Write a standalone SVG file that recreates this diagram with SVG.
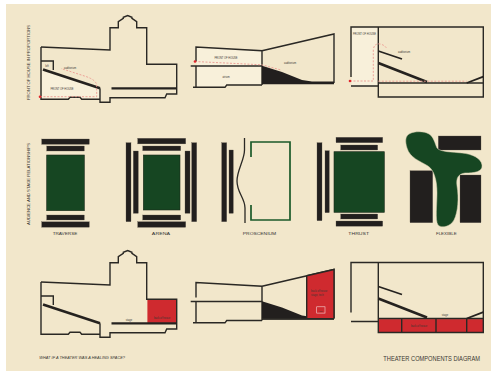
<svg xmlns="http://www.w3.org/2000/svg" xmlns:xlink="http://www.w3.org/1999/xlink" width="491" height="371" viewBox="0 0 491 371">
  <style>
    .wall{fill:none;stroke:#2a2824;stroke-width:1.4;stroke-linejoin:miter}
    .thick{fill:none;stroke:#25221f;stroke-width:2.6}
    .mid{fill:none;stroke:#25221f;stroke-width:1.8}
    .soft{fill:#f8f0da}
    .bar{fill:#221f1e;stroke:#5e584c;stroke-width:.3}
    .stage{fill:#164622;stroke:#1c2a1b;stroke-width:.6}
    .red{fill:#cf2a2f}
    .route{fill:none;stroke:#ec9a92;stroke-width:.9;stroke-dasharray:2 1.5}
    .dot{fill:#e0262c}
    .t{font-family:"Liberation Sans",Arial,sans-serif;fill:#3a3733}
    .tiny{font-size:2.6px}
    .lbl{font-size:4.3px;fill:#333}
  </style>
  <defs>
    <!-- tall theatre with fly tower: section outline -->
    <g id="bldgA">
      <path class="wall" d="M41,47 L110,50 L110,27.7 L118.3,27.7 L118.3,21.7 L123.3,18.3 L123.3,17.3 L127.7,15.5 L131.9,17.3 L131.9,18.3 L136.7,21.7 L136.7,27.7 L146.7,27.7 L146.7,64.3 L176.7,64.3 L176.7,94 L166.7,94 L165,97.7 L110,97.7 L110,102.3 L100,102.3 L100,88.3"/>
      <path class="wall" d="M41,47 V99.3 H68.3 L70,97.3 H80 L81.7,99.3 H100"/>
      <path class="wall" d="M41,61 H53.3 V70"/>
      <path class="mid" d="M111.5,88.3 H176.7" style="stroke-width:2.2"/>
      <path class="thick" d="M43,69.5 L100,88.3"/>
    </g>
    <!-- long lobby plus raked house: section outline -->
    <g id="bldgB">
      <path class="wall" d="M196,62 V47 L262,50.7 V85 M190.7,66 H262 M196,66 V87.3 M193,87.3 H225 L226.7,85 H262 M262,50.7 L334,34 V83"/>
      <path fill="#221f1e" d="M262,65.7 L282,72 L302,80 L312,81.5 H334 V84.2 H262 Z"/>
    </g>
    <!-- box theatre with front-of-house strip -->
    <g id="bldgC">
      <path class="wall" d="M351,77 V27 H483.3 V97 H378.3 V27 M378.3,83 H483.3 M351,86 H378.3"/>
      <path class="mid" d="M378.3,51 L402,59"/>
      <path class="thick" d="M378.3,63 L427,82"/>
      <path class="mid" d="M466.7,83 L483.3,76.7"/>
    </g>
  </defs>

  <rect x="0" y="0" width="491" height="371" fill="#ffffff"/>
  <rect x="6" y="4" width="485" height="367" fill="#f2e7cb"/>

  <!-- row captions -->
  <text class="t" font-size="4.3" text-anchor="middle" textLength="75" lengthAdjust="spacingAndGlyphs" transform="translate(29.5,62.5) rotate(-90)">FRONT OF HOUSE IN PROPORTIONS</text>
  <text class="t" font-size="4.1" text-anchor="middle" textLength="82" lengthAdjust="spacingAndGlyphs" transform="translate(29.8,184) rotate(-90)">AUDIENCE AND STAGE RELATIONSHIPS</text>

  <!-- top row: front of house -->
  <g id="foh-tower">
    <path class="soft" d="M42,70 L100,88.5 V98.5 H42 Z"/>
    <use xlink:href="#bldgA"/>
    <text class="t tiny" x="47" y="66.5" text-anchor="middle">loft</text>
    <text class="t tiny" x="70" y="68.8" text-anchor="middle">auditorium</text>
    <text class="t tiny" x="62" y="90" text-anchor="middle">FRONT OF HOUSE</text>
  </g>
  <g id="foh-lobby">
    <path class="soft" d="M196.7,47.8 L261.3,51.3 V84.5 H226.5 L225,86.6 H196.7 Z"/>
    <use xlink:href="#bldgB"/>
    <text class="t tiny" x="226" y="58.5" text-anchor="middle">FRONT OF HOUSE</text>
    <text class="t tiny" x="226" y="77.5" text-anchor="middle">atrium</text>
    <text class="t tiny" x="290" y="64" text-anchor="middle">auditorium</text>
  </g>
  <g id="foh-box">
    <rect class="soft" x="351.7" y="27.7" width="26" height="58"/>
    <use xlink:href="#bldgC"/>
    <text class="t tiny" x="364.5" y="34.5" text-anchor="middle">FRONT OF HOUSE</text>
    <text class="t tiny" x="404" y="53" text-anchor="middle">auditorium</text>
  </g>

  <!-- circulation routes -->
  <g id="connectors">
    <path class="route" d="M40,96.7 H96.7 V85 Q96,80 86,76.5 L61,68.5"/>
    <circle class="dot" cx="40" cy="96.8" r="1.3"/>
    <path class="route" d="M195,61.5 L261.7,64.8 L281,70"/>
    <circle class="dot" cx="195" cy="61.5" r="1.3"/>
    <path class="route" d="M350,81 H373.3 V50 Q374,43 380,44 Q385,45 387,49 M378.3,81.2 H466.7"/>
    <circle class="dot" cx="350" cy="81" r="1.3"/>
  </g>

  <!-- middle row: audience / stage relationships -->
  <g id="traverse">
    <rect class="bar" x="41.7" y="139" width="47.6" height="5.3"/>
    <rect class="bar" x="46.7" y="146" width="37.6" height="5"/>
    <rect class="stage" x="46.7" y="155" width="37.6" height="55.7"/>
    <rect class="bar" x="46.7" y="215" width="37.6" height="5"/>
    <rect class="bar" x="41.7" y="221.8" width="47.6" height="5.4"/>
    <text class="t lbl" x="65" y="235" text-anchor="middle" textLength="24.7" lengthAdjust="spacingAndGlyphs">TRAVERSE</text>
  </g>
  <g id="arena">
    <rect class="bar" x="137.7" y="138.3" width="48" height="5.6"/>
    <rect class="bar" x="142.7" y="146" width="38" height="4.7"/>
    <rect class="stage" x="143.3" y="155" width="36.7" height="55"/>
    <rect class="bar" x="142.7" y="215" width="38" height="5"/>
    <rect class="bar" x="137.7" y="221.7" width="48" height="5.6"/>
    <rect class="bar" x="126" y="142.7" width="5" height="79"/>
    <rect class="bar" x="133.3" y="151" width="5" height="62.3"/>
    <rect class="bar" x="185" y="151" width="5" height="62.3"/>
    <rect class="bar" x="191.7" y="142.7" width="5" height="79"/>
    <text class="t lbl" x="161" y="235" text-anchor="middle" textLength="18.3" lengthAdjust="spacingAndGlyphs">ARENA</text>
  </g>
  <g id="proscenium">
    <rect class="bar" x="221.7" y="142.7" width="5" height="79"/>
    <rect class="bar" x="229" y="150" width="4.3" height="63.3"/>
    <path class="wall" style="stroke-width:1.3" d="M244.5,138 V150 C244.5,160 237,170 237,181 C237,193 245,198 245,208 V223"/>
    <path fill="none" stroke="#1b5a2a" stroke-width="1.7" d="M251,157 V142 H290 V220 H251 V205"/>
    <text class="t lbl" x="259.5" y="235" text-anchor="middle" textLength="33.3" lengthAdjust="spacingAndGlyphs">PROSCENIUM</text>
  </g>
  <g id="thrust">
    <rect class="bar" x="317" y="142.7" width="5" height="78"/>
    <rect class="bar" x="325" y="150.7" width="4.3" height="62"/>
    <rect class="bar" x="336" y="137.3" width="46.7" height="5.4"/>
    <rect class="bar" x="340.7" y="145" width="37" height="5"/>
    <rect class="stage" x="334" y="151.7" width="50.3" height="60.6"/>
    <rect class="bar" x="340.7" y="214" width="37" height="5"/>
    <rect class="bar" x="336" y="221" width="46.7" height="5.2"/>
    <text class="t lbl" x="358.7" y="235" text-anchor="middle" textLength="20.7" lengthAdjust="spacingAndGlyphs">THRUST</text>
  </g>
  <g id="flexible">
    <rect class="bar" x="438.3" y="136" width="42.7" height="14"/>
    <rect class="bar" x="410" y="170.7" width="22.7" height="52"/>
    <rect class="bar" x="460" y="175" width="21" height="47.7"/>
    <path class="stage" style="stroke:#d8cfb1;stroke-width:.5" d="M410,133.5 C415,131 424,131 429,134 C434,137 435,144 437,148 C440,152 452,152 462,153 C472,154 481,158 482,165 C483,172 474,173 465,173 C458,174 456,178 457,186 C459,198 458,212 454,220 C451,226 442,229 438,225 C435,220 437,205 437,193 C437,180 434,170 428,166 C420,161 410,158 407,148 C405,141 405,136 410,133.5 Z"/>
    <text class="t lbl" x="446.3" y="235" text-anchor="middle" textLength="20.7" lengthAdjust="spacingAndGlyphs">FLEXIBLE</text>
  </g>

  <!-- bottom row: back of house -->
  <g id="boh-tower" transform="translate(0,235)">
    <rect class="red" x="147.4" y="64.3" width="29.3" height="23.6"/>
    <use xlink:href="#bldgA"/>
    <text class="t tiny" x="162" y="84" text-anchor="middle" fill="#3a1010">back of house</text>
    <text class="t tiny" x="129" y="86.3" text-anchor="middle">stage</text>
  </g>
  <g id="boh-lobby" transform="translate(0,235.5)">
    <use xlink:href="#bldgB"/>
    <path class="red" d="M306.7,40.3 L334,34 V83 H306.7 Z"/>
    <path class="wall" d="M306.7,40.3 L334,34 V83 M306.7,40.3 V83 M262,83.3 H334"/>
    <text class="t tiny" x="311" y="56.5" fill="#3a1010">back of house</text>
    <text class="t tiny" x="311" y="60.3" fill="#3a1010">stage, tech</text>
    <rect x="316.7" y="71.3" width="8.3" height="6.3" fill="none" stroke="#f3d8d8" stroke-width=".6"/>
    <text class="t" font-size="2.2" x="320.8" y="76.2" text-anchor="middle" fill="#fbeaea">bar</text>
  </g>
  <g id="boh-box" transform="translate(0,235.5)">
    <rect class="red" x="378.3" y="83.6" width="105" height="13.4"/>
    <use xlink:href="#bldgC"/>
    <path class="wall" d="M401.7,83 V97 M436,83 V97 M466.7,83 V97"/>
    <text class="t tiny" x="419" y="91.8" text-anchor="middle" fill="#3a1010">back of house</text>
    <text class="t tiny" x="445" y="80" text-anchor="middle">stage</text>
  </g>

  <text class="t" font-size="3.6" font-style="italic" x="39.3" y="358.5" textLength="85.7" lengthAdjust="spacingAndGlyphs">WHAT IF A THEATER WAS A HEALING SPACE?</text>
  <text class="t" font-size="6.3" x="383.3" y="360.6" textLength="96.7" lengthAdjust="spacingAndGlyphs" fill="#4a4742">THEATER COMPONENTS DIAGRAM</text>
</svg>
